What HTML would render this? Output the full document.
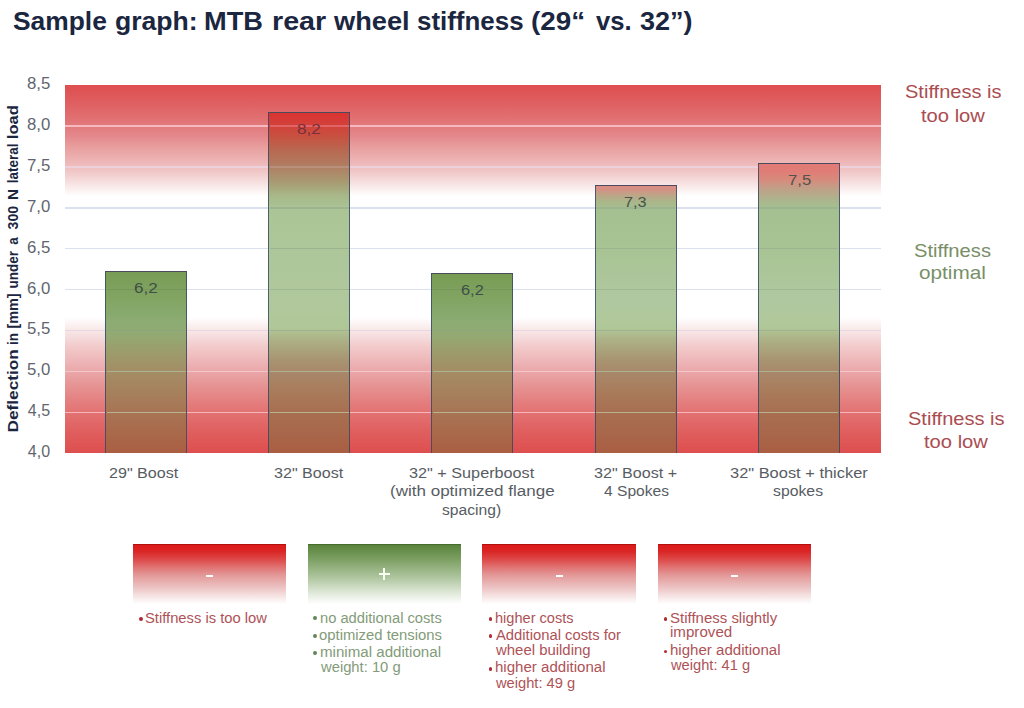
<!DOCTYPE html>
<html><head><meta charset="utf-8">
<style>
html,body{margin:0;padding:0;background:#fff;}
body{width:1024px;height:708px;position:relative;overflow:hidden;font-family:"Liberation Sans",sans-serif;}
.t{position:absolute;white-space:nowrap;transform-origin:0 0;}
#plot{position:absolute;left:64.5px;top:85px;width:816px;height:368px;
 background:linear-gradient(to bottom,rgb(222,78,80) 0.00%,rgb(223,93,94) 4.35%,rgb(225,114,116) 9.51%,rgb(228,136,140) 13.86%,rgb(232,156,156) 16.58%,rgb(240,196,196) 23.10%,rgb(247,225,225) 26.63%,rgb(255,255,255) 30.16%,rgb(255,255,255) 63.04%,rgb(249,232,232) 66.58%,rgb(244,214,216) 69.29%,rgb(243,205,205) 70.65%,rgb(236,176,178) 76.09%,rgb(230,148,148) 81.52%,rgb(228,122,122) 86.96%,rgb(224,96,96) 93.75%,rgb(222,78,78) 100.00%);}
.gl{position:absolute;left:0;width:816px;height:1.5px;}
.bar{position:absolute;width:82px;box-sizing:border-box;border:1.5px solid rgba(52,72,100,0.82);border-bottom:none;overflow:hidden;}
.bar u{position:absolute;left:0;width:82px;height:1.5px;display:block;}
.box{position:absolute;top:544.3px;width:153.2px;height:60.2px;}
.red{background:linear-gradient(to bottom,rgb(220,24,22) 0.0%,rgb(218,38,38) 12.8%,rgb(222,74,74) 26.1%,rgb(224,112,112) 37.7%,rgb(227,150,150) 51.0%,rgb(232,178,178) 64.3%,rgb(238,202,202) 75.9%,rgb(246,229,229) 87.5%,rgb(255,255,255) 100.0%);}
.green{background:linear-gradient(to bottom,#57823a 0%,#7c9f62 25%,#adc49d 55%,#e0e9da 82%,#ffffff 100%);}
.sym{position:absolute;background:#fff;}
.bu{position:absolute;width:3.8px;height:3.8px;border-radius:50%;margin:-0.2px 0 0 -0.2px;}
.bu.r{background:#b02b31}.bu.g{background:#64865a}
.bg{position:absolute;width:79px;height:1.5px;}
.box:before{content:'';position:absolute;left:0;top:0;width:100%;height:1px;background:rgba(60,0,0,0.28);}
.box.green:before{background:rgba(20,40,0,0.25);}

</style></head><body>
<div id="plot">
 <div class="gl" style="top:40.2px;background:#f6b9c0"></div>
 <div class="gl" style="top:81.1px;background:#ecd0dc"></div>
 <div class="gl" style="top:122px;background:#dbe0ee"></div>
 <div class="gl" style="top:162.9px;background:#dbe0ee"></div>
 <div class="gl" style="top:203.8px;background:#dbe0ee"></div>
 <div class="gl" style="top:244.7px;background:#e6d6e2"></div>
 <div class="gl" style="top:285.6px;background:#f2c4cc"></div>
 <div class="gl" style="top:326.5px;background:#f6b6be"></div>
</div>
<div class="bar" id="b1" style="left:105px;top:270.5px;height:182.5px;background:linear-gradient(to bottom,#789c54 0%,#82a564 15%,#8cac74 28%,#94a872 36%,#9c9c6c 44%,#a48c64 56%,#a87454 78%,#aa5e42 100%)"></div>
<div class="bar" id="b2" style="left:268.3px;top:112.3px;height:340.7px;background:linear-gradient(to bottom,#dc3232 0%,#c85040 6.7%,#b86850 11%,#b08064 16%,#a89870 20%,#a8b888 24.3%,#aac496 28%,#acc698 33%,#b0c89c 55%,#b0c898 63%,#acb084 67%,#a89470 72.7%,#a8886a 76.2%,#a87c5c 81.5%,#a86e50 88.3%,#a8684c 93.2%,#aa5e42 100%)"></div>
<div class="bar" id="b3" style="left:431.3px;top:273.2px;height:179.8px;background:linear-gradient(to bottom,#789c54 0%,#82a564 15%,#8cac74 27%,#94a872 35%,#9c9c6c 43%,#a48c64 55%,#a87454 78%,#aa5e42 100%)"></div>
<div class="bar" id="b4" style="left:594.6px;top:185px;height:268px;background:linear-gradient(to bottom,#de8c84 0%,#d09484 1.6%,#bca688 3.6%,#aab68a 5.8%,#a4c090 8.8%,#a8c494 24%,#b0c8a0 43%,#b0c898 53%,#acb084 58%,#a89470 65.3%,#a8886a 69.8%,#a87c5c 76.5%,#a86e50 85%,#a8684c 91.4%,#aa5e42 100%)"></div>
<div class="bar" id="b5" style="left:757.9px;top:162.6px;height:290.4px;background:linear-gradient(to bottom,#e27a76 0%,#e07c76 2.4%,#d88a7c 5.3%,#c0a088 8.6%,#b0b08c 11.5%,#a4c090 15%,#a8c494 30%,#b0c8a0 47%,#b0c898 56.5%,#acb084 61%,#a89470 68%,#a8886a 72%,#a87c5c 78.3%,#a86e50 86.2%,#a8684c 92%,#aa5e42 100%)"></div>

<div class="box red" style="left:133.2px"></div>
<div class="box green" style="left:307.7px"></div>
<div class="box red" style="left:482.4px"></div>
<div class="box red" style="left:657.7px"></div>
<div class="sym" style="left:206.1px;top:575px;width:7.1px;height:2.3px"></div>
<div class="sym" style="left:378.6px;top:573px;width:11.5px;height:2.1px;background:#f6fff2"></div>
<div class="sym" style="left:383.4px;top:568px;width:2.1px;height:11.9px;background:#f6fff2"></div>
<div class="sym" style="left:556.2px;top:575.2px;width:6.8px;height:2.3px"></div>
<div class="sym" style="left:731.2px;top:575.2px;width:6.8px;height:2.3px"></div>

<div class="bu r" style="left:138.9px;top:617.1px"></div>
<div class="bu g" style="left:313.5px;top:616.6px"></div>
<div class="bu g" style="left:313.5px;top:634.1px"></div>
<div class="bu g" style="left:313.5px;top:651.4px"></div>
<div class="bu r" style="left:488.8px;top:617.1px"></div>
<div class="bu r" style="left:488.8px;top:634.3px"></div>
<div class="bu r" style="left:488.8px;top:666.9px"></div>
<div class="bu r" style="left:663.8px;top:617.1px"></div>
<div class="bu r" style="left:663.8px;top:649.7px"></div>
<div class="bg" style="left:106.5px;top:288.8px;background:#76965c"></div>
<div class="bg" style="left:106.5px;top:329.7px;background:#8ea67c"></div>
<div class="bg" style="left:106.5px;top:370.6px;background:#acb292"></div>
<div class="bg" style="left:106.5px;top:411.5px;background:#b6b292"></div>
<div class="bg" style="left:269.8px;top:125.2px;background:#e26466"></div>
<div class="bg" style="left:269.8px;top:166.1px;background:#b8907c"></div>
<div class="bg" style="left:269.8px;top:207px;background:#9cb490"></div>
<div class="bg" style="left:269.8px;top:247.9px;background:#9cb490"></div>
<div class="bg" style="left:269.8px;top:288.8px;background:#9eb692"></div>
<div class="bg" style="left:269.8px;top:329.7px;background:#a2b290"></div>
<div class="bg" style="left:269.8px;top:370.6px;background:#acb292"></div>
<div class="bg" style="left:269.8px;top:411.5px;background:#b6b292"></div>
<div class="bg" style="left:432.8px;top:288.8px;background:#76965c"></div>
<div class="bg" style="left:432.8px;top:329.7px;background:#8ea67c"></div>
<div class="bg" style="left:432.8px;top:370.6px;background:#acb292"></div>
<div class="bg" style="left:432.8px;top:411.5px;background:#b6b292"></div>
<div class="bg" style="left:596.1px;top:207px;background:#9cb490"></div>
<div class="bg" style="left:596.1px;top:247.9px;background:#9cb490"></div>
<div class="bg" style="left:596.1px;top:288.8px;background:#9eb692"></div>
<div class="bg" style="left:596.1px;top:329.7px;background:#a2b290"></div>
<div class="bg" style="left:596.1px;top:370.6px;background:#acb292"></div>
<div class="bg" style="left:596.1px;top:411.5px;background:#b6b292"></div>
<div class="bg" style="left:759.4px;top:207px;background:#9cb490"></div>
<div class="bg" style="left:759.4px;top:247.9px;background:#9cb490"></div>
<div class="bg" style="left:759.4px;top:288.8px;background:#9eb692"></div>
<div class="bg" style="left:759.4px;top:329.7px;background:#a2b290"></div>
<div class="bg" style="left:759.4px;top:370.6px;background:#acb292"></div>
<div class="bg" style="left:759.4px;top:411.5px;background:#b6b292"></div>
<div class="t" style="left:13.04px;top:6.44px;font-size:25px;line-height:30.00px;color:#1b2640;font-weight:bold;transform:scaleX(1.0552)">Sample</div>
<div class="t" style="left:114.94px;top:6.44px;font-size:25px;line-height:30.00px;color:#1b2640;font-weight:bold;transform:scaleX(1.0627)">graph:</div>
<div class="t" style="left:203.72px;top:6.44px;font-size:25px;line-height:30.00px;color:#1b2640;font-weight:bold;transform:scaleX(1.0882)">MTB</div>
<div class="t" style="left:272.21px;top:6.44px;font-size:25px;line-height:30.00px;color:#1b2640;font-weight:bold;transform:scaleX(1.1467)">rear</div>
<div class="t" style="left:334.10px;top:6.44px;font-size:25px;line-height:30.00px;color:#1b2640;font-weight:bold;transform:scaleX(1.0882)">wheel</div>
<div class="t" style="left:416.96px;top:6.44px;font-size:25px;line-height:30.00px;color:#1b2640;font-weight:bold;transform:scaleX(1.0366)">stiffness</div>
<div class="t" style="left:531.39px;top:6.44px;font-size:25px;line-height:30.00px;color:#1b2640;font-weight:bold;transform:scaleX(1.1109)">(29“</div>
<div class="t" style="left:595.50px;top:6.44px;font-size:25px;line-height:30.00px;color:#1b2640;font-weight:bold;transform:scaleX(1.0242)">vs.</div>
<div class="t" style="left:639.62px;top:6.44px;font-size:25px;line-height:30.00px;color:#1b2640;font-weight:bold;transform:scaleX(1.0787)">32”)</div>
<div class="t" style="left:26.75px;top:74.06px;font-size:16px;line-height:19.20px;color:#5f666f;transform:scaleX(1.0476)">8,5</div>
<div class="t" style="left:26.75px;top:114.96px;font-size:16px;line-height:19.20px;color:#5f666f;transform:scaleX(1.0476)">8,0</div>
<div class="t" style="left:26.75px;top:155.86px;font-size:16px;line-height:19.20px;color:#5f666f;transform:scaleX(1.0476)">7,5</div>
<div class="t" style="left:26.75px;top:196.76px;font-size:16px;line-height:19.20px;color:#5f666f;transform:scaleX(1.0476)">7,0</div>
<div class="t" style="left:26.75px;top:237.66px;font-size:16px;line-height:19.20px;color:#5f666f;transform:scaleX(1.0476)">6,5</div>
<div class="t" style="left:26.75px;top:278.56px;font-size:16px;line-height:19.20px;color:#5f666f;transform:scaleX(1.0476)">6,0</div>
<div class="t" style="left:26.75px;top:319.46px;font-size:16px;line-height:19.20px;color:#5f666f;transform:scaleX(1.0476)">5,5</div>
<div class="t" style="left:26.75px;top:360.36px;font-size:16px;line-height:19.20px;color:#5f666f;transform:scaleX(1.0476)">5,0</div>
<div class="t" style="left:27.80px;top:401.26px;font-size:16px;line-height:19.20px;color:#5f666f;transform:scaleX(1.0000)">4,5</div>
<div class="t" style="left:27.80px;top:442.16px;font-size:16px;line-height:19.20px;color:#5f666f;transform:scaleX(1.0000)">4,0</div>
<div class="t" style="left:108.76px;top:463.53px;font-size:15.5px;line-height:18.60px;color:#575c63;transform:scaleX(1.0379)">29&quot; Boost</div>
<div class="t" style="left:274.46px;top:463.53px;font-size:15.5px;line-height:18.60px;color:#575c63;transform:scaleX(1.0379)">32&quot; Boost</div>
<div class="t" style="left:409.25px;top:463.53px;font-size:15.5px;line-height:18.60px;color:#575c63;transform:scaleX(1.0462)">32&quot; + Superboost</div>
<div class="t" style="left:389.60px;top:482.23px;font-size:15.5px;line-height:18.60px;color:#575c63;transform:scaleX(1.0986)">(with optimized flange</div>
<div class="t" style="left:442.49px;top:500.93px;font-size:15.5px;line-height:18.60px;color:#575c63;transform:scaleX(1.0088)">spacing)</div>
<div class="t" style="left:593.76px;top:463.53px;font-size:15.5px;line-height:18.60px;color:#575c63;transform:scaleX(1.0392)">32&quot; Boost +</div>
<div class="t" style="left:603.60px;top:482.23px;font-size:15.5px;line-height:18.60px;color:#575c63;transform:scaleX(1.0062)">4 Spokes</div>
<div class="t" style="left:729.54px;top:463.53px;font-size:15.5px;line-height:18.60px;color:#575c63;transform:scaleX(1.0597)">32&quot; Boost + thicker</div>
<div class="t" style="left:773.48px;top:482.23px;font-size:15.5px;line-height:18.60px;color:#575c63;transform:scaleX(1.0187)">spokes</div>
<div class="t" style="left:904.52px;top:81.29px;font-size:18.5px;line-height:22.20px;color:#ab4c51;transform:scaleX(1.0830)">Stiffness is</div>
<div class="t" style="left:920.90px;top:104.59px;font-size:18.5px;line-height:22.20px;color:#ab4c51;transform:scaleX(1.0898)">too low</div>
<div class="t" style="left:913.71px;top:239.59px;font-size:18.5px;line-height:22.20px;color:#788f67;transform:scaleX(1.0899)">Stiffness</div>
<div class="t" style="left:918.68px;top:261.89px;font-size:18.5px;line-height:22.20px;color:#788f67;transform:scaleX(1.1224)">optimal</div>
<div class="t" style="left:907.92px;top:407.69px;font-size:18.5px;line-height:22.20px;color:#ab4c51;transform:scaleX(1.0830)">Stiffness is</div>
<div class="t" style="left:924.30px;top:430.79px;font-size:18.5px;line-height:22.20px;color:#ab4c51;transform:scaleX(1.0898)">too low</div>
<div class="t" style="left:133.50px;top:278.83px;font-size:15.5px;line-height:18.60px;color:#3d4f47;transform:scaleX(1.1000)">6,2</div>
<div class="t" style="left:297.09px;top:120.03px;font-size:15.5px;line-height:18.60px;color:#76303c;transform:scaleX(1.1100)">8,2</div>
<div class="t" style="left:460.64px;top:281.13px;font-size:15.5px;line-height:18.60px;color:#3d4f47;transform:scaleX(1.0550)">6,2</div>
<div class="t" style="left:624.45px;top:192.63px;font-size:15.5px;line-height:18.60px;color:#44534a;transform:scaleX(1.0500)">7,3</div>
<div class="t" style="left:787.82px;top:170.73px;font-size:15.5px;line-height:18.60px;color:#54524c;transform:scaleX(1.0800)">7,5</div>
<div class="t" style="left:144.75px;top:609.75px;font-size:14px;line-height:16.80px;color:#ae5257;transform:scaleX(1.0539)">Stiffness is too low</div>
<div class="t" style="left:319.85px;top:609.55px;font-size:14px;line-height:16.80px;color:#839b79;transform:scaleX(1.0504)">no additional costs</div>
<div class="t" style="left:319.24px;top:626.95px;font-size:14px;line-height:16.80px;color:#839b79;transform:scaleX(1.0600)">optimized tensions</div>
<div class="t" style="left:319.82px;top:644.45px;font-size:14px;line-height:16.80px;color:#839b79;transform:scaleX(1.0800)">minimal additional</div>
<div class="t" style="left:320.90px;top:659.15px;font-size:14px;line-height:16.80px;color:#839b79;transform:scaleX(1.0547)">weight: 10 g</div>
<div class="t" style="left:495.36px;top:609.65px;font-size:14px;line-height:16.80px;color:#ae5257;transform:scaleX(1.0405)">higher costs</div>
<div class="t" style="left:495.90px;top:626.95px;font-size:14px;line-height:16.80px;color:#ae5257;transform:scaleX(1.0568)">Additional costs for</div>
<div class="t" style="left:496.40px;top:642.05px;font-size:14px;line-height:16.80px;color:#ae5257;transform:scaleX(1.0659)">wheel building</div>
<div class="t" style="left:495.32px;top:659.45px;font-size:14px;line-height:16.80px;color:#ae5257;transform:scaleX(1.0752)">higher additional</div>
<div class="t" style="left:496.40px;top:674.95px;font-size:14px;line-height:16.80px;color:#ae5257;transform:scaleX(1.0480)">weight: 49 g</div>
<div class="t" style="left:669.83px;top:609.65px;font-size:14px;line-height:16.80px;color:#ae5257;transform:scaleX(1.0707)">Stiffness slightly</div>
<div class="t" style="left:670.32px;top:624.15px;font-size:14px;line-height:16.80px;color:#ae5257;transform:scaleX(1.0804)">improved</div>
<div class="t" style="left:670.32px;top:642.05px;font-size:14px;line-height:16.80px;color:#ae5257;transform:scaleX(1.0752)">higher additional</div>
<div class="t" style="left:671.40px;top:656.95px;font-size:14px;line-height:16.80px;color:#ae5257;transform:scaleX(1.0480)">weight: 41 g</div>
<div class="t" style="left:0;top:0;font-size:15px;line-height:18.00px;color:#1b2640;font-weight:bold;transform:translate(3.60px,432.45px) rotate(-90deg) scaleX(1.1493)">Deflection</div>
<div class="t" style="left:0;top:0;font-size:15px;line-height:18.00px;color:#1b2640;font-weight:bold;transform:translate(3.60px,345.05px) rotate(-90deg) scaleX(0.9000)">in</div>
<div class="t" style="left:0;top:0;font-size:15px;line-height:18.00px;color:#1b2640;font-weight:bold;transform:translate(3.60px,328.56px) rotate(-90deg) scaleX(0.9600)">[mm]</div>
<div class="t" style="left:0;top:0;font-size:15px;line-height:18.00px;color:#1b2640;font-weight:bold;transform:translate(3.60px,288.50px) rotate(-90deg) scaleX(0.9000)">under</div>
<div class="t" style="left:0;top:0;font-size:15px;line-height:18.00px;color:#1b2640;font-weight:bold;transform:translate(3.60px,244.85px) rotate(-90deg) scaleX(0.9000)">a</div>
<div class="t" style="left:0;top:0;font-size:15px;line-height:18.00px;color:#1b2640;font-weight:bold;transform:translate(3.60px,229.40px) rotate(-90deg) scaleX(0.9400)">300</div>
<div class="t" style="left:0;top:0;font-size:15px;line-height:18.00px;color:#1b2640;font-weight:bold;transform:translate(3.60px,199.91px) rotate(-90deg) scaleX(1.0111)">N</div>
<div class="t" style="left:0;top:0;font-size:15px;line-height:18.00px;color:#1b2640;font-weight:bold;transform:translate(3.60px,183.35px) rotate(-90deg) scaleX(0.9000)">lateral</div>
<div class="t" style="left:0;top:0;font-size:15px;line-height:18.00px;color:#1b2640;font-weight:bold;transform:translate(3.60px,139.20px) rotate(-90deg) scaleX(1.1000)">load</div>
</body></html>
